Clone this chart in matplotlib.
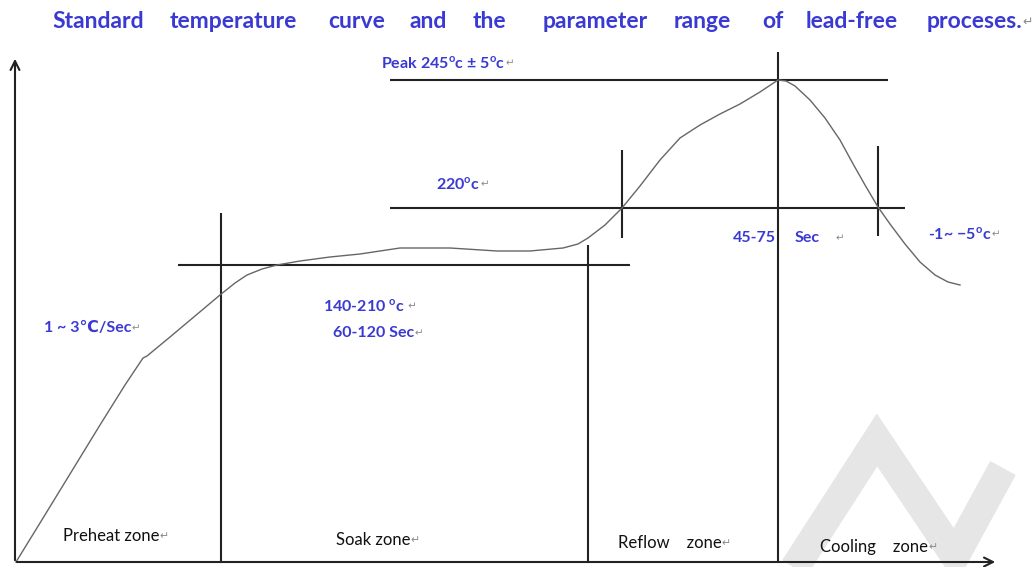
import matplotlib.pyplot as plt

plt.rcParams['font.family'] = ['Lato', 'DejaVu Sans']
plt.rcParams['mathtext.fontset'] = 'custom'
plt.rcParams['mathtext.rm'] = 'Lato'
plt.rcParams['mathtext.bf'] = 'Lato:bold'

BLUE = '#3a3ad2'
LINE = '#222222'
MARK = '#8a8a8a'

# Reflow profile, drawn on a canvas 1036 wide and 567 deep (y grows downward)
profile_x = [16, 40, 70, 100, 125, 143, 147, 170, 195, 220, 235, 247, 262, 277, 300,
             330, 360, 400, 450, 497, 530, 563, 578, 588, 605, 622, 640, 660, 680,
             700, 720, 740, 760, 772, 778, 786, 795, 810, 825, 840, 852, 865, 878,
             890, 905, 920, 935, 948, 960]
profile_y = [562, 523, 474, 425, 385, 358, 356, 337, 316, 295, 283, 275, 269, 265, 261,
             257, 254, 248, 248, 251, 251, 248, 244, 238, 225, 208, 186, 160, 138,
             125, 114, 104, 92, 84, 80, 81, 86, 100, 118, 140, 162, 185, 207,
             224, 244, 262, 275, 282, 285]

# Guide lines: (x0, x1, y0, y1)
guides = [
    (221, 221, 213, 562),
    (178, 630, 265, 265),
    (588, 588, 245, 562),
    (390, 905, 208, 208),
    (622, 622, 150, 238),
    (390, 888, 80, 80),
    (778, 778, 52, 562),
    (878, 878, 146, 236),
]

title_words = ['Standard', 'temperature', 'curve', 'and', 'the',
               'parameter', 'range', 'of', 'lead-free', 'proceses.']
title_x = [52, 170, 328, 410, 473, 543, 674, 762, 806, 927]

watermark_x = [790, 877, 955, 1003]
watermark_y = [575, 440, 556, 468]

fig = plt.figure(figsize=(10.36, 5.67), dpi=100)
ax = fig.add_axes([0, 0, 1, 1])
ax.set_xlim(0, 1036)
ax.set_ylim(567, 0)
ax.axis('off')

ax.plot(watermark_x, watermark_y, color='#e6e6e6', lw=21, solid_joinstyle='miter',
        solid_capstyle='butt', zorder=0)

# axes with arrow heads
ax.annotate('', xy=(15, 56), xytext=(15, 563),
            arrowprops=dict(arrowstyle='->', lw=1.5, color=LINE, mutation_scale=16))
ax.annotate('', xy=(998, 562), xytext=(14, 562),
            arrowprops=dict(arrowstyle='->', lw=1.5, color=LINE, mutation_scale=16))

for x0, x1, y0, y1 in guides:
    ax.plot([x0, x1], [y0, y1], color=LINE, lw=1.5, solid_capstyle='butt')

ax.plot(profile_x, profile_y, color='#666666', lw=1.0)


def label(x, y, s, color=BLUE, weight='bold', size=11.5, mark=True, gap=''):
    t = ax.text(x, y, s, color=color, fontsize=size, fontweight=weight,
                ha='left', va='center')
    if mark:
        ax.annotate(gap + '\u21b5', xy=(1, 0.5), xycoords=t, color=MARK,
                    fontsize=size * 0.65, ha='left', va='center', family='DejaVu Sans')
    return t


for w, x in zip(title_words, title_x):
    t = ax.text(x, 21, w, color=BLUE, fontsize=16.5, fontweight='bold',
                ha='left', va='center')
ax.annotate('\u21b5', xy=(1, 0.45), xycoords=t, color=MARK, fontsize=9,
            ha='left', va='center', family='DejaVu Sans')

deg = r'$^{\mathbf{o}}$'
label(381, 63, 'Peak 245' + deg + 'c \u00b1 5' + deg + 'c')
label(436, 184, '220' + deg + 'c')
label(733, 238, '45-75', mark=False)
label(795, 238, 'Sec', mark=False)
ax.text(836, 238, '\u21b5', color=MARK, fontsize=7.5, ha='left', va='center',
        family='DejaVu Sans')
label(928, 234, '-1~ \u22125' + deg + 'c')
label(44, 328, '1 ~ 3\u2103/Sec')
label(323, 306, '140-210 ' + deg + 'c', gap=' ')
label(333, 333, '60-120 Sec')

label(63, 536, 'Preheat zone', color='#111111', weight='normal', size=12)
label(336, 540, 'Soak zone', color='#111111', weight='normal', size=12)
label(618, 543, 'Reflow    zone', color='#111111', weight='normal', size=12)
label(820, 547, 'Cooling    zone', color='#111111', weight='normal', size=12)

fig.savefig('out.png', dpi=100)
